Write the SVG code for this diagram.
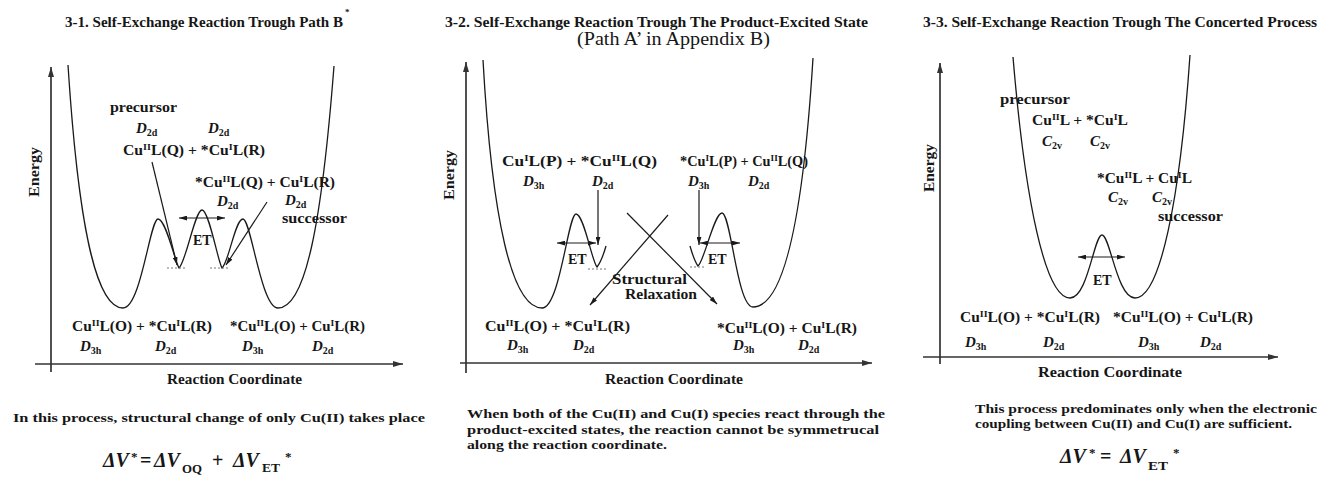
<svg xmlns="http://www.w3.org/2000/svg" width="1320" height="489" viewBox="0 0 1320 489">
<style>
.t{font-family:"Liberation Serif","Times New Roman",serif;font-weight:bold;font-size:14px;fill:#161616}
.i{font-style:italic}
.n{font-style:normal}
.d{font-size:15px}
.sb{font-size:10px}
.sp{font-size:9px}
.p{font-size:13.5px}
.big{font-weight:normal;font-size:19px}
.f{font-size:20px}
.fs{font-size:13px}
.c{fill:none;stroke:#1a1a1a;stroke-width:1.3}
.ax{fill:none;stroke:#333;stroke-width:1.7}
.ar{fill:none;stroke:#1a1a1a;stroke-width:1.2}
.ds{fill:none;stroke:#777;stroke-width:1;stroke-dasharray:2,2}
</style>
<defs>
<marker id="ah" viewBox="0 0 10 6" refX="10" refY="3" markerWidth="8" markerHeight="5" markerUnits="userSpaceOnUse" orient="auto-start-reverse"><path d="M0,0L10,3L0,6z" fill="#1a1a1a"/></marker>
<marker id="axh" viewBox="0 0 10 6" refX="10" refY="3" markerWidth="10" markerHeight="6" markerUnits="userSpaceOnUse" orient="auto"><path d="M0,0L10,3L0,6z" fill="#333"/></marker>
</defs>
<rect width="1320" height="489" fill="#fff"/>

<!-- ================= Panel 1 ================= -->
<g id="panel1">
<text class="t" x="65" y="27" textLength="278" lengthAdjust="spacingAndGlyphs">3-1. Self-Exchange Reaction Trough Path B</text>
<text class="t sp" x="345" y="15">*</text>
<path class="ax" d="M51,372V67" marker-end="url(#axh)"/>
<path class="ax" d="M35,364H403" marker-end="url(#axh)"/>
<text class="t" transform="translate(39,172) rotate(-90)" text-anchor="middle" font-size="12" textLength="50" lengthAdjust="spacingAndGlyphs">Energy</text>
<text class="t" x="167" y="384" textLength="135" lengthAdjust="spacingAndGlyphs">Reaction Coordinate</text>
<path id="curve1" class="c" d="M68,65 C78,220 95,308 123,308 C141,308 150,219 158,219 C166,219 175,262 179,268 C186,262 195,210 202,210 C209,210 218,262 222,268 C229,262 235,219 243,219 C251,219 261,308 278,308 C306,308 322,220 334,66"/>
<path class="ds" d="M167,268H186M210,268H230"/>
<text class="t" x="110" y="112" textLength="67" lengthAdjust="spacingAndGlyphs">precursor</text>
<text class="t i d" x="136" y="133">D<tspan class="sb n" dy="3">2d</tspan></text>
<text class="t i d" x="208" y="133">D<tspan class="sb n" dy="3">2d</tspan></text>
<text class="t" x="123" y="155" textLength="142" lengthAdjust="spacingAndGlyphs">Cu<tspan class="sp" dy="-5">II</tspan><tspan dy="5">L(Q) + *Cu</tspan><tspan class="sp" dy="-5">I</tspan><tspan dy="5">L(R)</tspan></text>
<text class="t" x="195" y="187" textLength="140" lengthAdjust="spacingAndGlyphs">*Cu<tspan class="sp" dy="-5">II</tspan><tspan dy="5">L(Q) + Cu</tspan><tspan class="sp" dy="-5">I</tspan><tspan dy="5">L(R)</tspan></text>
<text class="t i d" x="217" y="206">D<tspan class="sb n" dy="3">2d</tspan></text>
<text class="t i d" x="285" y="205">D<tspan class="sb n" dy="3">2d</tspan></text>
<text class="t" x="282" y="223" textLength="65" lengthAdjust="spacingAndGlyphs">successor</text>
<text class="t" x="193" y="245" font-size="13">ET</text>
<text class="t" x="72" y="331" textLength="140" lengthAdjust="spacingAndGlyphs">Cu<tspan class="sp" dy="-5">II</tspan><tspan dy="5">L(O) + *Cu</tspan><tspan class="sp" dy="-5">I</tspan><tspan dy="5">L(R)</tspan></text>
<text class="t" x="230" y="331" textLength="135" lengthAdjust="spacingAndGlyphs">*Cu<tspan class="sp" dy="-5">II</tspan><tspan dy="5">L(O) + Cu</tspan><tspan class="sp" dy="-5">I</tspan><tspan dy="5">L(R)</tspan></text>
<text class="t i d" x="80" y="351">D<tspan class="sb n" dy="3">3h</tspan></text>
<text class="t i d" x="155" y="351">D<tspan class="sb n" dy="3">2d</tspan></text>
<text class="t i d" x="242" y="351">D<tspan class="sb n" dy="3">3h</tspan></text>
<text class="t i d" x="312" y="351">D<tspan class="sb n" dy="3">2d</tspan></text>
<text class="t p" x="13" y="422" textLength="412" lengthAdjust="spacingAndGlyphs">In this process, structural change of only Cu(II) takes place</text>
<text class="t f i" x="103" y="467">ΔV</text>
<text class="t fs" x="131" y="461">*</text>
<text class="t f" x="140" y="467">=</text>
<text class="t f i" x="154" y="467">ΔV</text>
<text class="t fs" x="182" y="473" textLength="20" lengthAdjust="spacingAndGlyphs">OQ</text>
<text class="t f" x="212" y="467">+</text>
<text class="t f i" x="233" y="467">ΔV</text>
<text class="t fs" x="262" y="472" textLength="18" lengthAdjust="spacingAndGlyphs">ET</text>
<text class="t fs" x="285" y="461">*</text>
</g>

<!-- ================= Panel 2 ================= -->
<g id="panel2">
<text class="t" x="445" y="27" textLength="423" lengthAdjust="spacingAndGlyphs">3-2. Self-Exchange Reaction Trough The Product-Excited State</text>
<text class="t big" x="577" y="45" textLength="193" lengthAdjust="spacingAndGlyphs">(Path A’ in Appendix B)</text>
<path class="ax" d="M466,373V62" marker-end="url(#axh)"/>
<path class="ax" d="M460,363H872" marker-end="url(#axh)"/>
<text class="t" transform="translate(454,175) rotate(-90)" text-anchor="middle" font-size="12" textLength="50" lengthAdjust="spacingAndGlyphs">Energy</text>
<text class="t" x="605" y="384" textLength="138" lengthAdjust="spacingAndGlyphs">Reaction Coordinate</text>
<path id="curve2a" class="c" d="M483,60 C492,220 512,308 542,308 C560,308 568,214 576,214 C584,214 592,262 597,267 C601,262 604,253 606,246"/>
<path id="curve2b" class="c" d="M690,246 C692,253 695,262 698,266 C704,262 714,213 722,213 C731,213 737,307 753,307 C783,307 803,220 813,58"/>
<path class="ds" d="M588,269H608M690,267H706"/>
<text class="t" x="502" y="166" textLength="155" lengthAdjust="spacingAndGlyphs">Cu<tspan class="sp" dy="-5">I</tspan><tspan dy="5">L(P) + *Cu</tspan><tspan class="sp" dy="-5">II</tspan><tspan dy="5">L(Q)</tspan></text>
<text class="t" x="680" y="166" textLength="128" lengthAdjust="spacingAndGlyphs">*Cu<tspan class="sp" dy="-5">I</tspan><tspan dy="5">L(P) + Cu</tspan><tspan class="sp" dy="-5">II</tspan><tspan dy="5">L(Q)</tspan></text>
<text class="t i d" x="523" y="186">D<tspan class="sb n" dy="3">3h</tspan></text>
<text class="t i d" x="592" y="186">D<tspan class="sb n" dy="3">2d</tspan></text>
<text class="t i d" x="688" y="186">D<tspan class="sb n" dy="3">3h</tspan></text>
<text class="t i d" x="748" y="186">D<tspan class="sb n" dy="3">2d</tspan></text>
<text class="t" x="568" y="264" font-size="13">ET</text>
<text class="t" x="708" y="264" font-size="13">ET</text>
<text class="t" x="612" y="284" textLength="75" lengthAdjust="spacingAndGlyphs">Structural</text>
<text class="t" x="625" y="299" textLength="72" lengthAdjust="spacingAndGlyphs">Relaxation</text>
<text class="t" x="485" y="331" textLength="145" lengthAdjust="spacingAndGlyphs">Cu<tspan class="sp" dy="-5">II</tspan><tspan dy="5">L(O) + *Cu</tspan><tspan class="sp" dy="-5">I</tspan><tspan dy="5">L(R)</tspan></text>
<text class="t" x="717" y="333" textLength="140" lengthAdjust="spacingAndGlyphs">*Cu<tspan class="sp" dy="-5">II</tspan><tspan dy="5">L(O) + Cu</tspan><tspan class="sp" dy="-5">I</tspan><tspan dy="5">L(R)</tspan></text>
<text class="t i d" x="507" y="350">D<tspan class="sb n" dy="3">3h</tspan></text>
<text class="t i d" x="573" y="350">D<tspan class="sb n" dy="3">2d</tspan></text>
<text class="t i d" x="733" y="350">D<tspan class="sb n" dy="3">3h</tspan></text>
<text class="t i d" x="798" y="350">D<tspan class="sb n" dy="3">2d</tspan></text>
<text class="t p" x="467" y="418" textLength="418" lengthAdjust="spacingAndGlyphs">When both of the Cu(II) and Cu(I) species react through the</text>
<text class="t p" x="467" y="434" textLength="412" lengthAdjust="spacingAndGlyphs">product-excited states, the reaction cannot be symmetrucal</text>
<text class="t p" x="467" y="449" textLength="200" lengthAdjust="spacingAndGlyphs">along the reaction coordinate.</text>
</g>

<!-- ================= Panel 3 ================= -->
<g id="panel3">
<text class="t" x="923" y="27" textLength="394" lengthAdjust="spacingAndGlyphs">3-3. Self-Exchange Reaction Trough The Concerted Process</text>
<path class="ax" d="M940,364V63" marker-end="url(#axh)"/>
<path class="ax" d="M923,357H1278" marker-end="url(#axh)"/>
<text class="t" transform="translate(934,168) rotate(-90)" text-anchor="middle" font-size="12" textLength="48" lengthAdjust="spacingAndGlyphs">Energy</text>
<text class="t" x="1038" y="377" textLength="144" lengthAdjust="spacingAndGlyphs">Reaction Coordinate</text>
<path id="curve3" class="c" d="M1013,57 C1025,200 1045,298 1070,298 C1088,298 1094,235 1102,235 C1110,235 1117,298 1135,298 C1160,298 1180,200 1190,55"/>
<text class="t" x="1000" y="104" textLength="70" lengthAdjust="spacingAndGlyphs">precursor</text>
<text class="t" x="1032" y="125" textLength="96" lengthAdjust="spacingAndGlyphs">Cu<tspan class="sp" dy="-5">II</tspan><tspan dy="5">L + *Cu</tspan><tspan class="sp" dy="-5">I</tspan><tspan dy="5">L</tspan></text>
<text class="t i d" x="1042" y="146">C<tspan class="sb n" dy="3">2v</tspan></text>
<text class="t i d" x="1090" y="146">C<tspan class="sb n" dy="3">2v</tspan></text>
<text class="t" x="1097" y="183" textLength="95" lengthAdjust="spacingAndGlyphs">*Cu<tspan class="sp" dy="-5">II</tspan><tspan dy="5">L + Cu</tspan><tspan class="sp" dy="-5">I</tspan><tspan dy="5">L</tspan></text>
<text class="t i d" x="1108" y="202">C<tspan class="sb n" dy="3">2v</tspan></text>
<text class="t i d" x="1152" y="202">C<tspan class="sb n" dy="3">2v</tspan></text>
<text class="t" x="1158" y="221" textLength="65" lengthAdjust="spacingAndGlyphs">successor</text>
<text class="t" x="1093" y="285" font-size="13">ET</text>
<text class="t" x="960" y="322" textLength="140" lengthAdjust="spacingAndGlyphs">Cu<tspan class="sp" dy="-5">II</tspan><tspan dy="5">L(O) + *Cu</tspan><tspan class="sp" dy="-5">I</tspan><tspan dy="5">L(R)</tspan></text>
<text class="t" x="1113" y="322" textLength="140" lengthAdjust="spacingAndGlyphs">*Cu<tspan class="sp" dy="-5">II</tspan><tspan dy="5">L(O) + Cu</tspan><tspan class="sp" dy="-5">I</tspan><tspan dy="5">L(R)</tspan></text>
<text class="t i d" x="965" y="347">D<tspan class="sb n" dy="3">3h</tspan></text>
<text class="t i d" x="1043" y="347">D<tspan class="sb n" dy="3">2d</tspan></text>
<text class="t i d" x="1138" y="347">D<tspan class="sb n" dy="3">3h</tspan></text>
<text class="t i d" x="1200" y="347">D<tspan class="sb n" dy="3">2d</tspan></text>
<text class="t p" x="975" y="413" textLength="342" lengthAdjust="spacingAndGlyphs">This process predominates only when the electronic</text>
<text class="t p" x="975" y="428" textLength="317" lengthAdjust="spacingAndGlyphs">coupling between Cu(II) and Cu(I) are sufficient.</text>
<text class="t f i" x="1060" y="463">ΔV</text>
<text class="t fs" x="1089" y="457">*</text>
<text class="t f" x="1100" y="463">=</text>
<text class="t f i" x="1120" y="463">ΔV</text>
<text class="t fs" x="1148" y="470" textLength="20" lengthAdjust="spacingAndGlyphs">ET</text>
<text class="t fs" x="1173" y="457">*</text>
</g>

<!-- ================= Connectors ================= -->
<g id="connectors">
<path class="ar" d="M152,162L177,265" marker-end="url(#ah)"/>
<path class="ar" d="M267,202L226,265" marker-end="url(#ah)"/>
<path class="ar" d="M179,218H225" marker-start="url(#ah)" marker-end="url(#ah)"/>
<path class="ar" d="M598,190V245" marker-end="url(#ah)"/>
<path class="ar" d="M699,190V245" marker-end="url(#ah)"/>
<path class="ar" d="M557,243H596" marker-start="url(#ah)" marker-end="url(#ah)"/>
<path class="ar" d="M700,243H740" marker-start="url(#ah)" marker-end="url(#ah)"/>
<path class="ar" d="M627,213L717,304" marker-end="url(#ah)"/>
<path class="ar" d="M668,215L590,305" marker-end="url(#ah)"/>
<path class="ar" d="M1078,257H1125" marker-start="url(#ah)" marker-end="url(#ah)"/>
</g>
</svg>
